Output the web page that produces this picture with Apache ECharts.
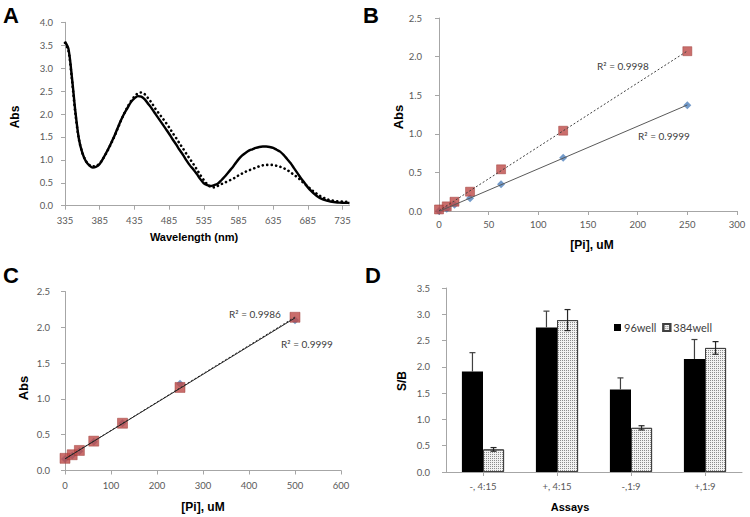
<!DOCTYPE html>
<html>
<head>
<meta charset="utf-8">
<script src="https://cdn.jsdelivr.net/npm/echarts@6/dist/echarts.min.js"></script>
<style>
  html, body { margin: 0; padding: 0; background: #fff; }
  #chart { width: 750px; height: 517px; }
</style>
</head>
<body>
<div id="chart"></div>
<script>
// Panel A: absorbance spectra (solid and dotted traces)
const wavelengths = [
  335, 340, 345, 350, 355, 360, 365, 370, 375, 380, 385, 390, 395, 400, 405, 410, 415, 420,
  425, 430, 435, 440, 445, 450, 455, 460, 465, 470, 475, 480, 485, 490, 495, 500, 505, 510,
  515, 520, 525, 530, 535, 540, 545, 550, 555, 560, 565, 570, 575, 580, 585, 590, 595, 600,
  605, 610, 615, 620, 625, 630, 635, 640, 645, 650, 655, 660, 665, 670, 675, 680, 685, 690,
  695, 700, 705, 710, 715, 720, 725, 730, 735, 740, 745
];
const absSolid = [
  3.58, 3.42, 2.80, 2.05, 1.46, 1.15, 0.97, 0.88, 0.83, 0.85, 0.91, 1.03, 1.17, 1.32, 1.48, 1.66, 1.84, 2.00,
  2.13, 2.26, 2.34, 2.39, 2.38, 2.32, 2.22, 2.12, 2.01, 1.90, 1.79, 1.68, 1.57, 1.45, 1.34, 1.22, 1.11, 0.99,
  0.88, 0.79, 0.69, 0.58, 0.49, 0.45, 0.43, 0.45, 0.48, 0.55, 0.63, 0.72, 0.81, 0.91, 1.01, 1.09, 1.15, 1.20,
  1.23, 1.26, 1.28, 1.29, 1.29, 1.28, 1.26, 1.22, 1.18, 1.11, 1.02, 0.93, 0.82, 0.71, 0.60, 0.50, 0.40, 0.32,
  0.25, 0.19, 0.15, 0.12, 0.10, 0.085, 0.075, 0.068, 0.064, 0.062, 0.06
];
const absDotted = [
  3.55, 3.38, 2.75, 2.00, 1.45, 1.15, 0.98, 0.89, 0.86, 0.87, 0.92, 1.03, 1.16, 1.31, 1.47, 1.65, 1.83, 2.00,
  2.15, 2.28, 2.38, 2.45, 2.47, 2.43, 2.34, 2.24, 2.12, 2.02, 1.92, 1.82, 1.71, 1.59, 1.48, 1.36, 1.25, 1.13,
  1.02, 0.91, 0.79, 0.67, 0.56, 0.47, 0.41, 0.40, 0.43, 0.47, 0.50, 0.54, 0.57, 0.61, 0.66, 0.70, 0.74, 0.77,
  0.80, 0.83, 0.86, 0.88, 0.89, 0.89, 0.89, 0.87, 0.85, 0.82, 0.78, 0.73, 0.67, 0.62, 0.55, 0.48, 0.42, 0.35,
  0.29, 0.24, 0.19, 0.16, 0.13, 0.115, 0.10, 0.095, 0.09, 0.085, 0.08
];
const wavelengthTicks = [335, 385, 435, 485, 535, 585, 635, 685, 735];

// Panel B: standard curves
const piB = [0, 7.8, 15.6, 31.25, 62.5, 125, 250];
const absRedB = [0.02, 0.06, 0.12, 0.25, 0.54, 1.04, 2.07];
const absBlueB = [0.0, 0.03, 0.08, 0.165, 0.345, 0.69, 1.37];
const r2B = ["R\u00b2 = 0.9998", "R\u00b2 = 0.9999"];

// Panel C: standard curves
const piC = [0, 15.6, 31.25, 62.5, 125, 250, 500];
const absRedC = [0.17, 0.22, 0.28, 0.41, 0.66, 1.16, 2.14];
const absBlueC = [0.16, 0.21, 0.27, 0.40, 0.66, 1.21, 2.10];
const r2C = ["R\u00b2 = 0.9986", "R\u00b2 = 0.9999"];

// Panel D: signal / background
const assays = ["-, 4:15", "+, 4:15", "-,1:9", "+,1:9"];
const sb96 = [1.91, 2.75, 1.57, 2.15];
const err96 = [0.36, 0.31, 0.22, 0.37];
const sb384 = [0.43, 2.89, 0.84, 2.36];
const err384 = [0.035, 0.2, 0.04, 0.12];

const axisColor = "#a6a6a6";
const labelColor = "#595959";
const tickFont = "Lato";
const titleFont = '"Liberation Sans", Arial, sans-serif';
const barGapRatio = 0.43;
const redMarker = { color: "#bd4a47", borderColor: "#9e3a37", borderWidth: 0.6 };

function trendLine(xs, ys) {
  const n = xs.length;
  const mx = xs.reduce((a, b) => a + b, 0) / n;
  const my = ys.reduce((a, b) => a + b, 0) / n;
  let sxy = 0;
  let sxx = 0;
  xs.forEach((x, i) => {
    sxy += (x - mx) * (ys[i] - my);
    sxx += (x - mx) * (x - mx);
  });
  const slope = sxy / sxx;
  const icpt = my - slope * mx;
  const x0 = Math.min(...xs);
  const x1 = Math.max(...xs);
  return [[x0, icpt + slope * x0], [x1, icpt + slope * x1]];
}

function pairs(xs, ys) {
  return xs.map((x, i) => [x, ys[i]]);
}

function baseAxis(gridIndex, extra) {
  return Object.assign({
    gridIndex,
    axisLine: { show: true, lineStyle: { color: axisColor, width: 1 } },
    axisTick: { show: true, length: 4, lineStyle: { color: axisColor } },
    splitLine: { show: false },
    axisLabel: { color: labelColor, fontFamily: tickFont, fontSize: 9.5 },
  }, extra);
}

function valueY(gridIndex, max, margin) {
  return baseAxis(gridIndex, {
    type: "value", min: 0, max, interval: 0.5,
    axisLabel: {
      color: labelColor, fontFamily: tickFont, fontSize: 9.5, margin,
      formatter: (v) => v.toFixed(1),
    },
  });
}

// error bars drawn beside each bar; the black bars only show the upper half
function errorBars(values, errs, side, color, upperOnly) {
  return {
    type: "custom",
    xAxisIndex: 3,
    yAxisIndex: 3,
    z: 5,
    silent: true,
    data: values.map((v, i) => [i, upperOnly ? v : v - errs[i], v + errs[i]]),
    renderItem(params, api) {
      const cat = api.value(0);
      const lo = api.coord([cat, api.value(1)]);
      const hi = api.coord([cat, api.value(2)]);
      const band = api.size([1, 0])[0];
      const barW = band * (1 - barGapRatio) / 2;
      const x = hi[0] + side * barW / 2;
      const cap = 3;
      const style = { stroke: color, lineWidth: 1.2 };
      const children = [
        { type: "line", shape: { x1: x, y1: lo[1], x2: x, y2: hi[1] }, style },
        { type: "line", shape: { x1: x - cap, y1: hi[1], x2: x + cap, y2: hi[1] }, style },
      ];
      if (!upperOnly) {
        children.push({ type: "line", shape: { x1: x - cap, y1: lo[1], x2: x + cap, y2: lo[1] }, style });
      }
      return { type: "group", children };
    },
  };
}

function label(text, x, y, opts = {}) {
  return {
    type: "text",
    x, y,
    rotation: opts.rotation || 0,
    z: 10,
    style: {
      text,
      font: opts.font || `bold 11px ${titleFont}`,
      fill: opts.color || "#000",
      align: opts.align || "center",
      verticalAlign: "middle",
    },
  };
}

const chart = echarts.init(document.getElementById("chart"), null, { renderer: "svg" });

chart.setOption({
  animation: false,
  backgroundColor: "#fff",
  grid: [
    { left: 65, top: 22.3, width: 284.5, height: 183.4 },
    { left: 439, top: 18, width: 298, height: 193 },
    { left: 65, top: 291.5, width: 276, height: 179 },
    { left: 446, top: 288, width: 296, height: 184 },
  ],
  xAxis: [
    baseAxis(0, {
      type: "value", min: 335, max: 745,
      axisTick: { show: true, length: 4, lineStyle: { color: axisColor }, customValues: wavelengthTicks },
      axisLabel: {
        color: labelColor, fontFamily: tickFont, fontSize: 9.5, margin: 10,
        customValues: wavelengthTicks,
      },
    }),
    baseAxis(1, {
      type: "value", min: 0, max: 300, interval: 50,
      axisLabel: { color: labelColor, fontFamily: tickFont, fontSize: 9.5, margin: 8 },
    }),
    baseAxis(2, {
      type: "value", min: 0, max: 600, interval: 100,
      axisLabel: { color: labelColor, fontFamily: tickFont, fontSize: 9.5, margin: 10 },
    }),
    baseAxis(3, {
      type: "category", data: assays,
      axisTick: { show: true, length: 4, alignWithLabel: true, lineStyle: { color: axisColor } },
      axisLabel: { color: labelColor, fontFamily: tickFont, fontSize: 9.5, margin: 9 },
    }),
  ],
  yAxis: [
    valueY(0, 4, 12),
    valueY(1, 2.5, 17),
    valueY(2, 2.5, 15),
    valueY(3, 3.5, 16),
  ],
  legend: {
    data: ["96well", "384well"],
    left: 614,
    top: 322,
    icon: "rect",
    itemWidth: 7,
    itemHeight: 7,
    itemGap: 6,
    padding: 0,
    textStyle: { color: "#404040", fontFamily: tickFont, fontSize: 11, padding: [0, 0, 0, -2] },
  },
  series: [
    // Panel A
    {
      type: "line", xAxisIndex: 0, yAxisIndex: 0,
      data: pairs(wavelengths, absDotted),
      showSymbol: false, smooth: 0.3,
      lineStyle: { color: "#000", width: 2.6, type: [0.1, 4.4], cap: "round" },
    },
    {
      type: "line", xAxisIndex: 0, yAxisIndex: 0,
      data: pairs(wavelengths, absSolid),
      showSymbol: false, smooth: 0.3,
      lineStyle: { color: "#000", width: 2.4 },
    },
    // Panel B
    {
      type: "scatter", xAxisIndex: 1, yAxisIndex: 1, clip: false, z: 2,
      data: pairs(piB, absBlueB), symbol: "diamond", symbolSize: 8,
      itemStyle: { color: "#4f81bd" },
    },
    {
      type: "scatter", xAxisIndex: 1, yAxisIndex: 1, clip: false, z: 2,
      data: pairs(piB, absRedB), symbol: "rect", symbolSize: 9,
      itemStyle: redMarker,
    },
    {
      type: "line", xAxisIndex: 1, yAxisIndex: 1, z: 3, showSymbol: false,
      data: trendLine(piB, absBlueB),
      lineStyle: { color: "#595959", width: 1 },
    },
    {
      type: "line", xAxisIndex: 1, yAxisIndex: 1, z: 3, showSymbol: false,
      data: trendLine(piB, absRedB),
      lineStyle: { color: "#404040", width: 1, type: [2, 2] },
    },
    // Panel C
    {
      type: "scatter", xAxisIndex: 2, yAxisIndex: 2, clip: false, z: 2,
      data: pairs(piC, absBlueC), symbol: "diamond", symbolSize: 8,
      itemStyle: { color: "#4f81bd" },
    },
    {
      type: "scatter", xAxisIndex: 2, yAxisIndex: 2, clip: false, z: 2,
      data: pairs(piC, absRedC), symbol: "rect", symbolSize: 10,
      itemStyle: redMarker,
    },
    {
      type: "line", xAxisIndex: 2, yAxisIndex: 2, z: 3, showSymbol: false,
      data: trendLine(piC, absBlueC),
      lineStyle: { color: "#262626", width: 1 },
    },
    {
      type: "line", xAxisIndex: 2, yAxisIndex: 2, z: 3, showSymbol: false,
      data: trendLine(piC, absRedC),
      lineStyle: { color: "#262626", width: 1, type: [2, 2] },
    },
    // Panel D
    {
      name: "96well", type: "bar", xAxisIndex: 3, yAxisIndex: 3,
      data: sb96, barGap: "0%", barCategoryGap: `${barGapRatio * 100}%`,
      itemStyle: { color: "#000" },
    },
    {
      name: "384well", type: "bar", xAxisIndex: 3, yAxisIndex: 3,
      data: sb384,
      itemStyle: {
        color: "#f2f2f2", borderColor: "#404040", borderWidth: 1,
        decal: {
          symbol: "rect", symbolSize: 1, color: "#8c8c8c",
          dashArrayX: [1, 1], dashArrayY: [1, 1],
        },
      },
    },
    errorBars(sb96, err96, -1, "#404040", true),
    errorBars(sb384, err384, 1, "#262626", false),
  ],
  graphic: [
    label("A", 3, 15, { font: `bold 22px ${titleFont}`, align: "left" }),
    label("B", 363, 15, { font: `bold 22px ${titleFont}`, align: "left" }),
    label("C", 3, 275, { font: `bold 22px ${titleFont}`, align: "left" }),
    label("D", 365, 275, { font: `bold 22px ${titleFont}`, align: "left" }),
    label("Abs", 15, 117, { rotation: Math.PI / 2, font: `bold 12px ${titleFont}` }),
    label("Wavelength (nm)", 194, 237, { font: `bold 11px ${titleFont}` }),
    label("Abs", 398, 117, { rotation: Math.PI / 2, font: `bold 13px ${titleFont}` }),
    label("[Pi], uM", 592, 245, { font: `bold 12px ${titleFont}` }),
    label("Abs", 23, 388, { rotation: Math.PI / 2, font: `bold 13px ${titleFont}` }),
    label("[Pi], uM", 203, 507, { font: `bold 12px ${titleFont}` }),
    label("S/B", 402, 381, { rotation: Math.PI / 2, font: `bold 12px ${titleFont}` }),
    label("Assays", 570, 507, { font: `bold 11px ${titleFont}` }),
    label(r2B[0], 597, 66, { font: `10px ${tickFont}`, color: "#404040", align: "left" }),
    label(r2B[1], 638, 136, { font: `10px ${tickFont}`, color: "#404040", align: "left" }),
    label(r2C[0], 229, 314, { font: `10px ${tickFont}`, color: "#404040", align: "left" }),
    label(r2C[1], 281, 344, { font: `10px ${tickFont}`, color: "#404040", align: "left" }),
  ],
});

window.addEventListener("resize", () => chart.resize());
</script>
</body>
</html>
